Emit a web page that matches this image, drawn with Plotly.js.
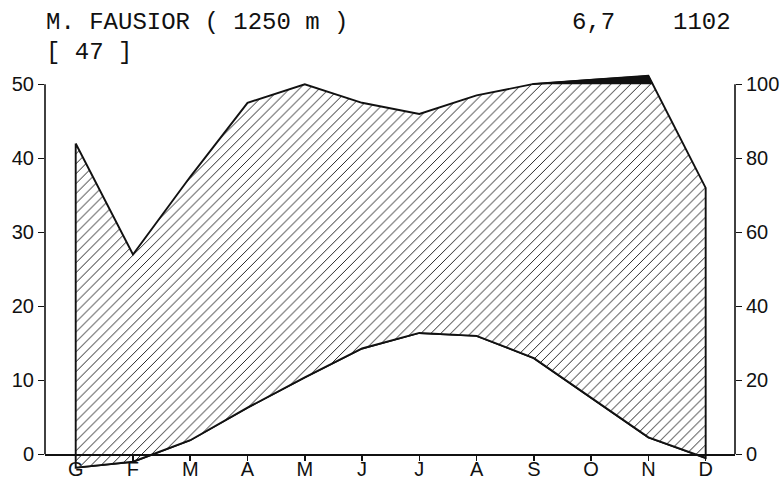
<!DOCTYPE html>
<html><head><meta charset="utf-8">
<script src="https://cdn.plot.ly/plotly-3.0.1.min.js"></script>
<style>html,body{margin:0;padding:0;background:#fff}</style>
</head><body><div id="chart" style="width:784px;height:479px"></div>
<script>
const months = ['G','F','M','A','M','J','J','A','S','O','N','D'];
const temperature = [-1.8, -1.0, 1.9, 6.3, 10.4, 14.3, 16.4, 16.0, 13.0, 7.7, 2.3, -0.5];
const precipitation = [84, 54, 75, 95, 100, 95, 92, 97, 101, 113, 123, 72];
const stationName = 'M. FAUSIOR ( 1250 m )';
const yearsObserved = '[ 47 ]';
const meanTemp = '6,7';
const annualPrecip = '1102';
const tempTicks = [0, 10, 20, 30, 40, 50];
const precipTicks = [0, 20, 40, 60, 80, 100];

const idx = months.map((_, i) => i);
// Walter-Lieth: 1 degC = 2 mm, above 100 mm scale reduced to 1/10
const pc = precipitation.map(p => p <= 100 ? p : 100 + (p - 100) / 10);
const t2 = temperature.map(t => t * 2);

const polyX = idx.concat(idx.slice().reverse()).concat([0]);
const polyY = pc.concat(t2.slice().reverse()).concat([pc[0]]);

const bx = [], by = [];
for (let i = 0; i < pc.length; i++) {
  if (i > 0) {
    const a = pc[i - 1], b = pc[i];
    if ((a - 100) * (b - 100) < 0) { const f = (100 - a) / (b - a); bx.push(i - 1 + f); by.push(100); }
  }
  if (pc[i] > 100) { bx.push(i); by.push(pc[i]); }
}

const W = 784, H = 479, L = 45, R = 49, T = 66, B = 6;
const plotW = W - L - R, plotH = H - T - B;
const yr = [-2.527, 52.473];
const xr = [-0.536, 11.512];
const px = v => (v - L) / plotW;
const py = v => (H - B - v) / plotH;

const ink = '#111';
const tickFont = {family: 'Liberation Sans, Arial, Helvetica, sans-serif', size: 20, color: ink};
const monoFont = {family: 'Liberation Mono, Courier New, monospace', size: 24, color: ink};

const traces = [
  {x: polyX, y: polyY, yaxis: 'y2', type: 'scatter', mode: 'lines', fill: 'toself',
   fillcolor: 'rgba(255,255,255,0)',
   fillpattern: {shape: '/', size: 7, solidity: 0.14, fgcolor: '#222', bgcolor: 'white'},
   line: {color: ink, width: 1.9}, hoverinfo: 'skip', showlegend: false},
  {x: bx, y: by, yaxis: 'y2', type: 'scatter', mode: 'lines', fill: 'toself',
   fillcolor: ink, line: {color: ink, width: 1.2}, showlegend: false, hoverinfo: 'skip'},
  {x: idx, y: temperature, yaxis: 'y', type: 'scatter', mode: 'lines',
   line: {color: ink, width: 1.9}, showlegend: false, hoverinfo: 'skip'}
];

const layout = {
  width: W, height: H,
  margin: {l: L, r: R, t: T, b: B},
  paper_bgcolor: 'white', plot_bgcolor: 'white',
  showlegend: false,
  xaxis: {range: xr, tickmode: 'array', tickvals: idx, ticktext: months,
    ticks: 'outside', ticklen: 5, tickwidth: 1.5, tickcolor: ink,
    ticklabelstandoff: -9,
    showline: true, linewidth: 1.6, linecolor: ink, showgrid: false, zeroline: false,
    anchor: 'free', position: 2.527 / 55, tickfont: tickFont, fixedrange: true},
  yaxis: {range: yr, tickmode: 'array', tickvals: tempTicks,
    ticks: 'outside', ticklen: 6, tickwidth: 1.5, tickcolor: ink,
    showline: false, showgrid: false, zeroline: false, tickfont: tickFont, fixedrange: true},
  yaxis2: {range: yr.map(v => v * 2), overlaying: 'y', side: 'right', anchor: 'x',
    tickmode: 'array', tickvals: precipTicks,
    ticks: 'outside', ticklen: 6, tickwidth: 1.5, tickcolor: ink,
    showline: false, showgrid: false, zeroline: false, tickfont: tickFont, fixedrange: true},
  shapes: [
    {type: 'line', xref: 'paper', yref: 'y', x0: 0, x1: 0, y0: 0, y1: 50, line: {color: ink, width: 1.6}},
    {type: 'line', xref: 'paper', yref: 'y2', x0: 1, x1: 1, y0: 0, y1: 100, line: {color: ink, width: 1.6}}
  ],
  annotations: [
    {text: stationName, xref: 'paper', yref: 'paper', x: px(44), y: py(22), xanchor: 'left', yanchor: 'middle', showarrow: false, font: monoFont},
    {text: yearsObserved, xref: 'paper', yref: 'paper', x: px(44), y: py(53), xanchor: 'left', yanchor: 'middle', showarrow: false, font: monoFont},
    {text: meanTemp, xref: 'paper', yref: 'paper', x: px(570), y: py(22), xanchor: 'left', yanchor: 'middle', showarrow: false, font: monoFont},
    {text: annualPrecip, xref: 'paper', yref: 'paper', x: px(733), y: py(22), xanchor: 'right', yanchor: 'middle', showarrow: false, font: monoFont}
  ]
};

Plotly.newPlot('chart', traces, layout, {staticPlot: true, displayModeBar: false});
</script>
</body></html>
